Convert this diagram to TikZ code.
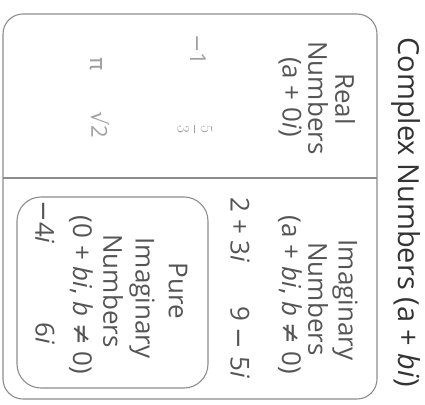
\documentclass[tikz,border=0pt]{standalone}
\usepackage{fontspec}
\setmainfont{Open Sans}
\newfontfamily\symf{DejaVu Sans}
\definecolor{txtgray}{HTML}{555555}
\definecolor{titlegray}{HTML}{333333}
\definecolor{fadegray}{HTML}{A0A0A0}
\definecolor{linegray}{HTML}{8C8C8C}
\newcommand{\ii}{\textit{i}}
\newcommand{\neqs}{{\symf ≠}}
\newcommand{\mns}{{\symf −}}
\begin{document}
\begin{tikzpicture}[x=1pt,y=-1pt,
  lbl/.style={rotate=-90, text=txtgray, font=\fontsize{26}{28}\selectfont, inner sep=0pt},
  ttl/.style={rotate=-90, text=titlegray, font=\fontsize{29}{32}\selectfont, inner sep=0pt},
  fade/.style={rotate=-90, text=fadegray, font=\fontsize{22}{24}\selectfont, inner sep=0pt},
  boxline/.style={draw=linegray, line width=1.1pt, rounded corners=20pt}]
\useasboundingbox (0,0) rectangle (425,404);
% outer box
\draw[boxline] (3,14) rectangle (377,399);
\coordinate (dl) at (3,178);
\coordinate (dr) at (377,178);
\draw[draw=linegray, line width=1.1pt] (dl) -- (dr);
% inner box
\draw[boxline, rounded corners=24pt] (17,197) rectangle (208,388);
% title
\node[ttl] (title) at (406,212) {Complex Numbers (a + \textit{bi})};
% real numbers
\node[lbl] (r1) at (345,99) {Real};
\node[lbl] (r2) at (318,98) {Numbers};
\node[lbl] (r3) at (290,97) {(a + 0\ii)};
\node[fade] (m1) at (198,50) {\mns1};
\node[fade, font=\fontsize{17}{20}\selectfont] (f53) at (195,129) {$\displaystyle\frac{5}{3}$};
\node[fade] (pi) at (96,64) {\symf π};
\node[fade] (s2) at (100,125) {{\symf √}2};
% imaginary numbers
\node[lbl] (i1) at (345,300) {Imaginary};
\node[lbl] (i2) at (318,299) {Numbers};
\node[lbl] (i3) at (290,295) {(a + \textit{bi}, \textit{b} \neqs{} 0)};
\node[lbl] (e1) at (240,230) {2 + 3\ii};
\node[lbl] (e2) at (240,342) {9 \mns{} 5\ii};
% pure imaginary
\node[lbl] (p1) at (178,291) {Pure};
\node[lbl] (p2) at (142,298) {Imaginary};
\node[lbl] (p3) at (113,291) {Numbers};
\node[lbl] (p4) at (81,295) {(0 + \textit{bi}, \textit{b} \neqs{} 0)};
\node[lbl] (q1) at (45,222) {\mns4\ii};
\node[lbl] (q2) at (45,333) {6\ii};
\end{tikzpicture}
\end{document}
